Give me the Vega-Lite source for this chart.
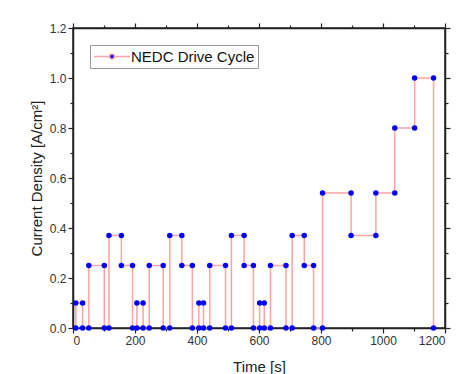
{
  "$schema": "https://vega.github.io/schema/vega-lite/v6.json",
  "width": 372,
  "height": 300,
  "autosize": {"type": "none"},
  "padding": {"left": 73, "top": 28, "right": 25, "bottom": 46},
  "background": "white",
  "data": {"values": [
    {"i": 1, "t": 9, "j": 0}, {"i": 2, "t": 9, "j": 0.1}, {"i": 3, "t": 31, "j": 0.1}, {"i": 4, "t": 31, "j": 0},
    {"i": 5, "t": 51, "j": 0}, {"i": 6, "t": 51, "j": 0.25}, {"i": 7, "t": 101, "j": 0.25}, {"i": 8, "t": 101, "j": 0},
    {"i": 9, "t": 116, "j": 0}, {"i": 10, "t": 116, "j": 0.37}, {"i": 11, "t": 156, "j": 0.37}, {"i": 12, "t": 156, "j": 0.25},
    {"i": 13, "t": 192, "j": 0.25}, {"i": 14, "t": 192, "j": 0},
    {"i": 15, "t": 206, "j": 0}, {"i": 16, "t": 206, "j": 0.1}, {"i": 17, "t": 226, "j": 0.1}, {"i": 18, "t": 226, "j": 0},
    {"i": 19, "t": 246, "j": 0}, {"i": 20, "t": 246, "j": 0.25}, {"i": 21, "t": 291, "j": 0.25}, {"i": 22, "t": 291, "j": 0},
    {"i": 23, "t": 312, "j": 0}, {"i": 24, "t": 312, "j": 0.37}, {"i": 25, "t": 351, "j": 0.37}, {"i": 26, "t": 351, "j": 0.25},
    {"i": 27, "t": 385, "j": 0.25}, {"i": 28, "t": 385, "j": 0},
    {"i": 29, "t": 406, "j": 0}, {"i": 30, "t": 406, "j": 0.1}, {"i": 31, "t": 421, "j": 0.1}, {"i": 32, "t": 421, "j": 0},
    {"i": 33, "t": 441, "j": 0}, {"i": 34, "t": 441, "j": 0.25}, {"i": 35, "t": 492, "j": 0.25}, {"i": 36, "t": 492, "j": 0},
    {"i": 37, "t": 511, "j": 0}, {"i": 38, "t": 511, "j": 0.37}, {"i": 39, "t": 552, "j": 0.37}, {"i": 40, "t": 552, "j": 0.25},
    {"i": 41, "t": 582, "j": 0.25}, {"i": 42, "t": 582, "j": 0},
    {"i": 43, "t": 602, "j": 0}, {"i": 44, "t": 602, "j": 0.1}, {"i": 45, "t": 617, "j": 0.1}, {"i": 46, "t": 617, "j": 0},
    {"i": 47, "t": 637, "j": 0}, {"i": 48, "t": 637, "j": 0.25}, {"i": 49, "t": 687, "j": 0.25}, {"i": 50, "t": 687, "j": 0},
    {"i": 51, "t": 707, "j": 0}, {"i": 52, "t": 707, "j": 0.37}, {"i": 53, "t": 746, "j": 0.37}, {"i": 54, "t": 746, "j": 0.25},
    {"i": 55, "t": 776, "j": 0.25}, {"i": 56, "t": 776, "j": 0},
    {"i": 57, "t": 805, "j": 0}, {"i": 58, "t": 805, "j": 0.54}, {"i": 59, "t": 897, "j": 0.54}, {"i": 60, "t": 897, "j": 0.37},
    {"i": 61, "t": 977, "j": 0.37}, {"i": 62, "t": 977, "j": 0.54}, {"i": 63, "t": 1038, "j": 0.54}, {"i": 64, "t": 1038, "j": 0.8},
    {"i": 65, "t": 1102, "j": 0.8}, {"i": 66, "t": 1102, "j": 1.0}, {"i": 67, "t": 1163, "j": 1.0}, {"i": 68, "t": 1163, "j": 0}
  ]},
  "resolve": {"axis": {"x": "independent", "y": "independent"}},
  "layer": [
    {
      "mark": {"type": "line", "color": "#ffa3a3", "strokeWidth": 1.5},
      "encoding": {
        "x": {"field": "t", "type": "quantitative", "scale": {"domain": [0, 1200], "nice": false},
          "axis": {"orient": "bottom", "values": [0, 200, 400, 600, 800, 1000, 1200], "format": "d", "title": "Time [s]", "tickSize": 5, "labelPadding": 2, "titlePadding": 13}},
        "y": {"field": "j", "type": "quantitative", "scale": {"domain": [0, 1.2], "nice": false},
          "axis": {"orient": "left", "values": [0, 0.2, 0.4, 0.6, 0.8, 1.0, 1.2], "format": ".1f", "title": "Current Density [A/cm²]", "tickSize": 5, "labelPadding": 2, "titlePadding": 5}},
        "order": {"field": "i", "type": "quantitative"}
      }
    },
    {
      "mark": {"type": "point", "filled": true, "opacity": 1, "size": 30},
      "encoding": {
        "x": {"field": "t", "type": "quantitative",
          "axis": {"orient": "top", "values": [0, 200, 400, 600, 800, 1000, 1200], "labels": false, "title": null, "tickSize": 5}},
        "y": {"field": "j", "type": "quantitative",
          "axis": {"orient": "right", "values": [0, 0.2, 0.4, 0.6, 0.8, 1.0, 1.2], "labels": false, "title": null, "tickSize": 5}},
        "color": {"datum": "NEDC Drive Cycle", "scale": {"range": ["#0000ff"]},
          "legend": {"title": null, "orient": "top-left", "offset": 17,
            "symbolType": "M-1,0H1.07M1.73,0H3.8M1.07,0A0.33,0.33,0,1,0,1.73,0A0.33,0.33,0,1,0,1.07,0Z",
            "symbolSize": 225, "symbolStrokeWidth": 1.5, "symbolStrokeColor": "#ffa3a3", "symbolFillColor": "#0000ff", "labelOffset": 21,
            "labelFont": "Liberation Sans", "labelFontSize": 15, "labelColor": "#111",
            "strokeColor": "#999", "fillColor": "white", "padding": 3, "cornerRadius": 0,
            "encode": {"symbols": {"update": {"fill": {"value": "#0000ff"}, "stroke": {"value": "#ffa3a3"}, "strokeWidth": {"value": 1.5}, "strokeOpacity": {"value": 1}, "fillOpacity": {"value": 1}, "opacity": {"value": 1}}}}}}
      }
    },
    {
      "mark": {"type": "point", "opacity": 0},
      "encoding": {
        "x": {"field": "t", "type": "quantitative",
          "axis": {"orient": "top", "values": [100, 300, 500, 700, 900, 1100], "labels": false, "title": null, "tickSize": 3, "domain": false}},
        "y": {"field": "j", "type": "quantitative",
          "axis": {"orient": "right", "values": [0.1, 0.3, 0.5, 0.7, 0.9, 1.1], "labels": false, "title": null, "tickSize": 3, "domain": false}}
      }
    },
    {
      "mark": {"type": "point", "opacity": 0},
      "encoding": {
        "x": {"field": "t", "type": "quantitative",
          "axis": {"orient": "bottom", "values": [100, 300, 500, 700, 900, 1100], "labels": false, "title": null, "tickSize": 3, "domain": false}},
        "y": {"field": "j", "type": "quantitative",
          "axis": {"orient": "left", "values": [0.1, 0.3, 0.5, 0.7, 0.9, 1.1], "labels": false, "title": null, "tickSize": 3, "domain": false}}
      }
    }
  ],
  "config": {
    "view": {"stroke": "#222", "strokeWidth": 1.5},
    "axis": {"grid": false, "tickColor": "#222", "tickWidth": 1.2, "domainColor": "#222", "domainWidth": 1.5,
      "labelFont": "Liberation Sans", "labelFontSize": 12, "labelColor": "#333",
      "titleFont": "Liberation Sans", "titleFontSize": 15, "titleFontWeight": "normal", "titleColor": "#222"}
  }
}
